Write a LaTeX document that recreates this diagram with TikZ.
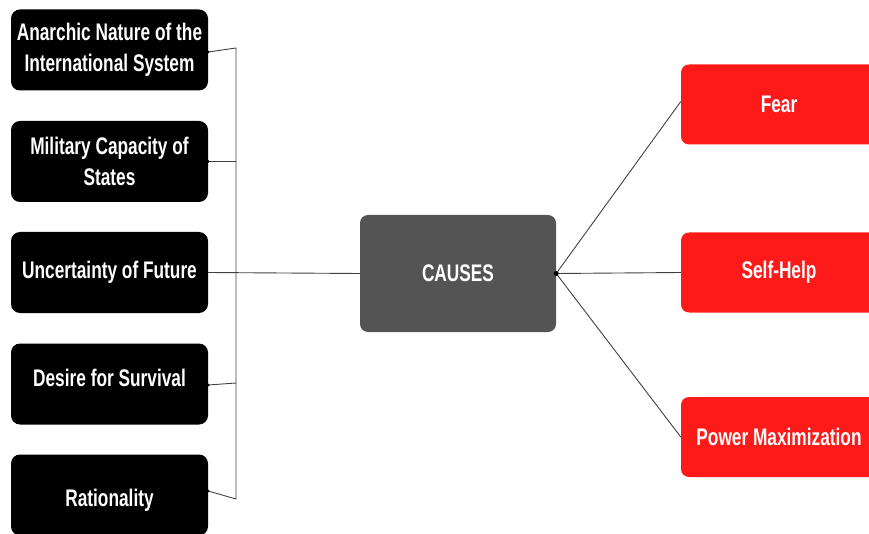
\documentclass[tikz,border=0pt]{standalone}
\usepackage{fontspec}
\newfontfamily\boxfont{Liberation Sans}[FakeStretch=0.72]
\begin{document}
\begin{tikzpicture}[x=1pt,y=-1pt,
  lbox/.style={rectangle, rounded corners=9pt, fill=black, text=white,
    minimum width=197pt, minimum height=81pt, inner sep=0pt,
    align=center,
    font=\boxfont\bfseries\fontsize{24}{31}\selectfont},
  cbox/.style={lbox, fill=black!67, minimum width=196pt, minimum height=117pt, rounded corners=8pt},
  rbox/.style={lbox, fill=redc, minimum width=196pt, minimum height=80pt, rounded corners=8pt},
  conn/.style={draw=black!75, line width=0.9pt},
  ldot/.style={circle, fill=black, inner sep=0pt, minimum size=3pt},
  cdot/.style={circle, fill=black, inner sep=0pt, minimum size=5pt}]
\definecolor{redc}{HTML}{FF1A1A}
\path[use as bounding box, clip] (0,0) rectangle (869,534);

\node[lbox] (b1) at (109.5,50) {Anarchic Nature of the\\International System};
\node[lbox] (b2) at (109.5,161.5) {Military Capacity of\\States};
\node[lbox] (b3) at (109.5,272.5) {Uncertainty of Future};
\node[lbox] (b4) at (109.5,384) {\raisebox{6pt}[\height][\depth]{Desire for Survival}};
\node[lbox] (b5) at (109.5,495) {\raisebox{-5pt}[\height][\depth]{Rationality}};

\node[cbox] (c) at (458,273.5) {CAUSES};

\node[rbox] (f) at (779,104.5) {Fear};
\node[rbox] (s) at (779,272.5) {Self-Help};
\node[rbox] (p) at (779,437) {Power Maximization};

\coordinate (j1) at (236,48);
\coordinate (j2) at (236,161.5);
\coordinate (j4) at (236,383);
\coordinate (j5) at (236,499);

\draw[conn] ([yshift=-2pt]b1.east) -- (j1) -- (j5) -- ([yshift=4pt]b5.east);
\draw[conn] (b2.east) -- (j2);
\draw[conn] ([yshift=-1pt]b4.east) -- (j4);
\draw[conn] (b3.east) -- (c.west);

\draw[conn] (c.east) -- ([yshift=3pt]f.west);
\draw[conn] (c.east) -- (s.west);
\draw[conn] (c.east) -- (p.west);

\node[ldot] (d1) at ([yshift=-2pt]b1.east) {};
\node[ldot] (d2) at (b2.east) {};
\node[ldot] (d4) at ([yshift=-1pt]b4.east) {};
\node[ldot] (d5) at ([yshift=4pt]b5.east) {};
\node[cdot] (dc) at (c.east) {};
\end{tikzpicture}
\end{document}
